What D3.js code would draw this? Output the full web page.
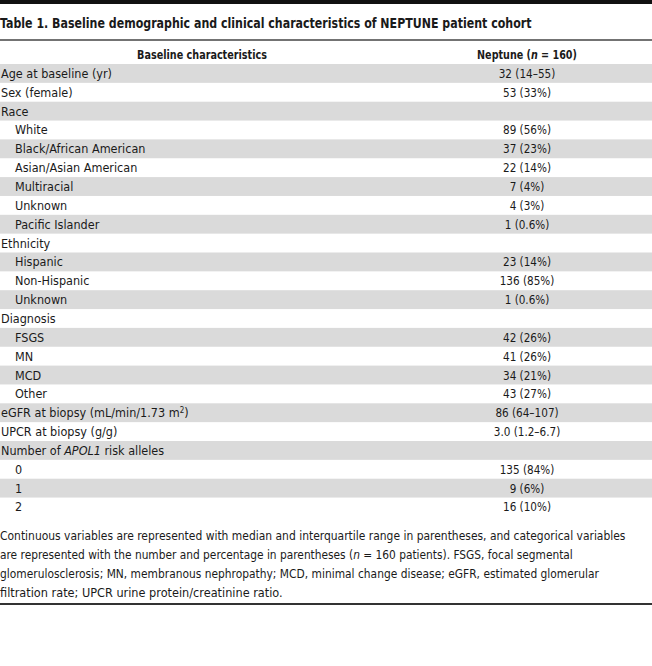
<!DOCTYPE html>
<html>
<head>
<meta charset="utf-8">
<script src="https://cdn.jsdelivr.net/npm/d3@7"></script>
<style>
  body { margin: 0; background: #fff; }
  svg text { font-family: "Liberation Sans Narrow", "DejaVu Sans Condensed", "Liberation Sans", sans-serif; fill: #1a1a1a; }
</style>
</head>
<body>
<svg id="tbl" width="652" height="666"></svg>
<script>
// table content
var title = "Table 1. Baseline demographic and clinical characteristics of NEPTUNE patient cohort";
var headers = ["Baseline characteristics", "Neptune (n = 160)"];
var labels = ["Age at baseline (yr)", "Sex (female)", "Race", "White", "Black/African American",
  "Asian/Asian American", "Multiracial", "Unknown", "Pacific Islander", "Ethnicity", "Hispanic",
  "Non-Hispanic", "Unknown", "Diagnosis", "FSGS", "MN", "MCD", "Other",
  "eGFR at biopsy (mL/min/1.73 m2)", "UPCR at biopsy (g/g)", "Number of APOL1 risk alleles", "0", "1", "2"];
var indent = [0, 0, 0, 1, 1, 1, 1, 1, 1, 0, 1, 1, 1, 0, 1, 1, 1, 1, 0, 0, 0, 1, 1, 1];
var values = ["32 (14\u201355)", "53 (33%)", "", "89 (56%)", "37 (23%)", "22 (14%)", "7 (4%)", "4 (3%)",
  "1 (0.6%)", "", "23 (14%)", "136 (85%)", "1 (0.6%)", "", "42 (26%)", "41 (26%)", "34 (21%)",
  "43 (27%)", "86 (64\u2013107)", "3.0 (1.2\u20136.7)", "", "135 (84%)", "9 (6%)", "16 (10%)"];
var footnote = [
  "Continuous variables are represented with median and interquartile range in parentheses, and categorical variables",
  "are represented with the number and percentage in parentheses (n = 160 patients). FSGS, focal segmental",
  "glomerulosclerosis; MN, membranous nephropathy; MCD, minimal change disease; eGFR, estimated glomerular",
  "filtration rate; UPCR urine protein/creatinine ratio."
];
var footWidth = [626, 573, 599, 283];

var W = 652;
var svg = d3.select("#tbl");
var rows = d3.range(labels.length);

var y = d3.scaleBand().domain(rows).range([64, 64 + 18.85 * labels.length]);
var col = d3.scalePoint().domain(headers).range([202, 527]);

// squeeze a text horizontally to a given width (the sandbox fonts run wider than the original)
function fit(sel, w) {
  sel.each(function() {
    var el = d3.select(this);
    var x = +el.attr("x"), yy = +el.attr("y");
    var len = this.getComputedTextLength();
    if (!len) return;
    var k = w / len;
    el.attr("x", 0).attr("y", 0)
      .attr("transform", "translate(" + x + "," + yy + ") scale(" + k + ",1)");
  });
}

// top bar
svg.append("rect").attr("x", 0).attr("y", 0).attr("width", W).attr("height", 4).attr("fill", "#111");

svg.append("text").attr("x", 0).attr("y", 27.5)
  .style("font-size", "14.5px").style("font-weight", "bold")
  .text(title)
  .call(fit, 532);

svg.append("line").attr("x1", 0).attr("x2", W).attr("y1", 40).attr("y2", 40)
  .attr("stroke", "#444").attr("stroke-width", 1.6);

// header
var hd = svg.append("g").style("font-size", "13px").style("font-weight", "bold");
hd.append("text").attr("x", col(headers[0])).attr("y", 59).attr("text-anchor", "middle")
  .text(headers[0]).call(fit, 130);
var h2 = hd.append("text").attr("x", col(headers[1])).attr("y", 59).attr("text-anchor", "middle");
h2.append("tspan").text("Neptune (");
h2.append("tspan").style("font-style", "italic").text("n");
h2.append("tspan").text(" = 160)");
h2.call(fit, 100);

// striped rows
svg.append("g").selectAll("rect")
  .data(rows.filter(function(i) { return i % 2 === 0; }))
  .enter().append("rect")
  .attr("x", 0).attr("width", W)
  .attr("y", function(i) { return y(i); })
  .attr("height", y.bandwidth())
  .attr("fill", "#dadada");

var body = svg.append("g").style("font-size", "12.5px");

body.selectAll("text.lab")
  .data(rows)
  .enter().append("text")
  .attr("class", "lab")
  .attr("x", function(i) { return indent[i] ? 15 : 1; })
  .attr("y", function(i) { return y(i) + y.bandwidth() / 2 + 4.5; })
  .each(function(i) {
    var t = d3.select(this), s = labels[i];
    if (s.indexOf("APOL1") >= 0) {
      t.append("tspan").text("Number of ");
      t.append("tspan").style("font-style", "italic").text("APOL1");
      t.append("tspan").text(" risk alleles");
    } else if (s.indexOf("m2)") >= 0) {
      t.append("tspan").text("eGFR at biopsy (mL/min/1.73 m");
      t.append("tspan").attr("dy", -4).style("font-size", "8px").text("2");
      t.append("tspan").attr("dy", 4).text(")");
    } else {
      t.text(s);
    }
  });

body.selectAll("text.val")
  .data(rows)
  .enter().append("text")
  .attr("class", "val")
  .attr("x", col(headers[1]))
  .attr("text-anchor", "middle")
  .attr("y", function(i) { return y(i) + y.bandwidth() / 2 + 4.5; })
  .text(function(i) { return values[i]; })
  .each(function() {
    var len = this.getComputedTextLength();
    if (len) d3.select(this).call(fit, len * 0.93);
  });

// footnote
var fn = svg.append("g").style("font-size", "12.5px");
fn.selectAll("text")
  .data(footnote)
  .enter().append("text")
  .attr("x", 0)
  .attr("y", function(d, i) { return 539.5 + i * 19; })
  .each(function(s, i) {
    var t = d3.select(this);
    var k = s.indexOf("(n =");
    if (k >= 0) {
      t.append("tspan").text(s.slice(0, k + 1));
      t.append("tspan").style("font-style", "italic").text("n");
      t.append("tspan").text(s.slice(k + 2));
    } else {
      t.text(s);
    }
    t.call(fit, footWidth[i]);
  });

svg.append("line").attr("x1", 0).attr("x2", W).attr("y1", 604).attr("y2", 604)
  .attr("stroke", "#333").attr("stroke-width", 2);
</script>
</body>
</html>
